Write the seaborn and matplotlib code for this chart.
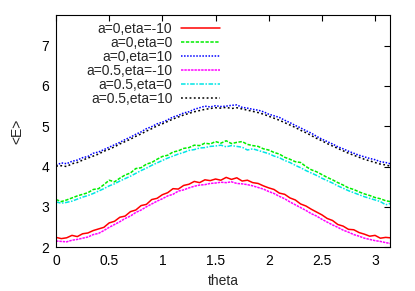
import numpy as np
import pandas as pd
import matplotlib
matplotlib.use("Agg")
import matplotlib.pyplot as plt
import seaborn as sns

# theta grid (x values)
theta = [0.00, 0.05, 0.10, 0.15, 0.20, 0.25, 0.30, 0.35, 0.40, 0.45,
         0.50, 0.55, 0.60, 0.65, 0.70, 0.75, 0.80, 0.85, 0.90, 0.95,
         1.00, 1.05, 1.10, 1.15, 1.20, 1.25, 1.30, 1.35, 1.40, 1.45,
         1.50, 1.55, 1.60, 1.65, 1.70, 1.75, 1.80, 1.85, 1.90, 1.95,
         2.00, 2.05, 2.10, 2.15, 2.20, 2.25, 2.30, 2.35, 2.40, 2.45,
         2.50, 2.55, 2.60, 2.65, 2.70, 2.75, 2.80, 2.85, 2.90, 2.95,
         3.00, 3.05, 3.10, 3.1416]

# <E> values
a0_eta_m10 = [2.24, 2.21, 2.23, 2.29, 2.26, 2.33, 2.35, 2.41, 2.45, 2.49,
              2.60, 2.64, 2.74, 2.77, 2.88, 2.92, 3.03, 3.06, 3.18, 3.21,
              3.30, 3.35, 3.45, 3.44, 3.53, 3.56, 3.63, 3.60, 3.67, 3.65,
              3.69, 3.66, 3.73, 3.68, 3.72, 3.64, 3.66, 3.60, 3.58, 3.52,
              3.47, 3.43, 3.34, 3.31, 3.22, 3.17, 3.07, 3.02, 2.94, 2.87,
              2.80, 2.71, 2.66, 2.56, 2.52, 2.44, 2.43, 2.36, 2.32, 2.27,
              2.29, 2.22, 2.24, 2.23]
a0_eta_0 = [3.18, 3.13, 3.17, 3.22, 3.27, 3.31, 3.35, 3.43, 3.45, 3.55,
            3.66, 3.62, 3.71, 3.79, 3.84, 3.95, 3.97, 4.06, 4.10, 4.18,
            4.25, 4.28, 4.36, 4.39, 4.45, 4.47, 4.53, 4.52, 4.58, 4.56,
            4.62, 4.58, 4.64, 4.57, 4.60, 4.62, 4.55, 4.52, 4.50, 4.44,
            4.41, 4.35, 4.31, 4.23, 4.18, 4.12, 4.10, 4.00, 3.92, 3.87,
            3.80, 3.73, 3.67, 3.60, 3.54, 3.47, 3.43, 3.37, 3.32, 3.28,
            3.23, 3.20, 3.15, 3.13]
a0_eta_10 = [4.03, 4.09, 4.07, 4.13, 4.16, 4.22, 4.25, 4.33, 4.36, 4.42,
             4.48, 4.54, 4.60, 4.67, 4.73, 4.80, 4.86, 4.94, 4.99, 5.06,
             5.10, 5.16, 5.23, 5.27, 5.33, 5.36, 5.42, 5.46, 5.50, 5.48,
             5.51, 5.49, 5.50, 5.52, 5.53, 5.47, 5.45, 5.42, 5.40, 5.36,
             5.30, 5.26, 5.22, 5.15, 5.09, 5.02, 4.96, 4.89, 4.83, 4.75,
             4.68, 4.62, 4.56, 4.49, 4.44, 4.38, 4.33, 4.28, 4.24, 4.20,
             4.17, 4.12, 4.10, 4.07]
a05_eta_m10 = [2.15, 2.14, 2.13, 2.17, 2.19, 2.22, 2.25, 2.31, 2.34, 2.41,
               2.49, 2.56, 2.63, 2.71, 2.77, 2.86, 2.92, 3.00, 3.07, 3.14,
               3.20, 3.27, 3.31, 3.39, 3.42, 3.47, 3.51, 3.54, 3.55, 3.58,
               3.59, 3.61, 3.60, 3.62, 3.58, 3.57, 3.55, 3.52, 3.48, 3.44,
               3.38, 3.33, 3.26, 3.20, 3.12, 3.05, 2.98, 2.91, 2.83, 2.77,
               2.69, 2.62, 2.55, 2.49, 2.42, 2.37, 2.31, 2.27, 2.22, 2.19,
               2.16, 2.14, 2.11, 2.09]
a05_eta_0 = [3.12, 3.09, 3.11, 3.14, 3.19, 3.24, 3.28, 3.33, 3.39, 3.45,
             3.52, 3.57, 3.64, 3.70, 3.76, 3.83, 3.90, 3.96, 4.03, 4.09,
             4.15, 4.21, 4.26, 4.31, 4.35, 4.40, 4.42, 4.46, 4.47, 4.50,
             4.51, 4.53, 4.49, 4.52, 4.50, 4.48, 4.41, 4.44, 4.40, 4.36,
             4.32, 4.26, 4.22, 4.15, 4.10, 4.03, 3.97, 3.90, 3.84, 3.78,
             3.71, 3.65, 3.59, 3.52, 3.46, 3.40, 3.35, 3.30, 3.25, 3.21,
             3.17, 3.13, 3.05, 3.08]
a05_eta_10 = [4.01, 4.02, 4.00, 4.07, 4.10, 4.16, 4.21, 4.26, 4.31, 4.38,
              4.43, 4.49, 4.56, 4.62, 4.68, 4.75, 4.81, 4.88, 4.94, 5.01,
              5.06, 5.12, 5.18, 5.23, 5.28, 5.32, 5.36, 5.39, 5.42, 5.44,
              5.46, 5.45, 5.47, 5.44, 5.46, 5.43, 5.40, 5.37, 5.34, 5.30,
              5.25, 5.20, 5.15, 5.09, 5.03, 4.97, 4.90, 4.84, 4.77, 4.70,
              4.64, 4.57, 4.51, 4.45, 4.39, 4.33, 4.28, 4.23, 4.18, 4.14,
              4.10, 4.06, 4.04, 4.01]

labels = ["a=0,eta=-10", "a=0,eta=0", "a=0,eta=10",
          "a=0.5,eta=-10", "a=0.5,eta=0", "a=0.5,eta=10"]
series = [a0_eta_m10, a0_eta_0, a0_eta_10, a05_eta_m10, a05_eta_0, a05_eta_10]
colors = ["#ff0000", "#00ee00", "#0000ff", "#ff00ff", "#00e5e5", "#000000"]
styles = ["-", (0, (2.2, 1.0)), (0, (1.0, 1.0)), (0, (1.6, 0.6)),
          (0, (3.0, 1.0, 1.0, 1.0)), (0, (1.2, 1.6))]
xticks = [0, 0.5, 1, 1.5, 2, 2.5, 3]
xticklabels = ["0", "0.5", "1", "1.5", "2", "2.5", "3"]
yticks = [2, 3, 4, 5, 6, 7]
yticklabels = ["2", "3", "4", "5", "6", "7"]

sns.set_style("white")
plt.rcParams["font.family"] = ["Liberation Sans", "DejaVu Sans"]

fig = plt.figure(figsize=(4.15, 2.91), dpi=100)
ax = fig.add_axes([0.135, 0.151, 0.805, 0.797])

for lab, vals, c, ls in zip(labels, series, colors, styles):
    sns.lineplot(x=theta, y=vals, ax=ax, color=c, linestyle=ls,
                 linewidth=1.1, label=lab)

ax.set_xlim(0, np.pi)
ax.set_ylim(2, 7.76)
ax.set_xticks(xticks)
ax.set_xticklabels(xticklabels)
ax.set_yticks(yticks)
ax.set_yticklabels(yticklabels)
ax.tick_params(direction="in", top=True, right=True, length=4, width=0.8,
               labelsize=10, colors="black", pad=5)
for sp in ax.spines.values():
    sp.set_visible(True)
    sp.set_color("black")
    sp.set_linewidth(0.8)

ax.set_xlabel("theta", fontsize=10, labelpad=4)
ax.set_ylabel("<E>", fontsize=10, labelpad=12)

ax.legend(loc="upper right", bbox_to_anchor=(0.525, 1.02), frameon=False,
          markerfirst=False, fontsize=10, handlelength=2.8,
          handletextpad=0.65, labelspacing=0.0, borderpad=0.3)

fig.savefig("out.png", dpi=100)
